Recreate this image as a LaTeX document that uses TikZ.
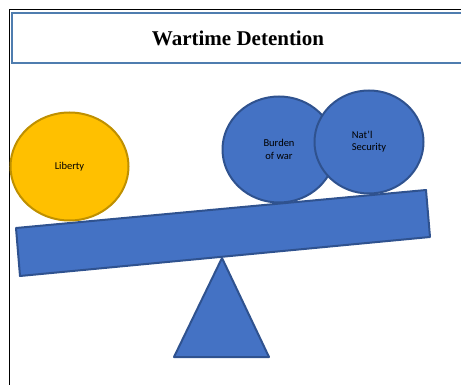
\documentclass[tikz,border=0pt]{standalone}
\usepackage{fontspec}
\setmainfont{Liberation Serif}
\newfontfamily\labelfont{Carlito}
\usetikzlibrary{shapes.geometric}
\definecolor{frameblue}{HTML}{4F7DAF}
\definecolor{shapeblue}{HTML}{4472C4}
\definecolor{edgeblue}{HTML}{2F528F}
\definecolor{gold}{HTML}{FFC000}
\definecolor{darkgold}{HTML}{BF9000}
\tikzset{
  weight/.style={ellipse, fill=shapeblue, draw=edgeblue, line width=2pt,
    inner sep=0pt, font=\labelfont\fontsize{10.5}{13.3}\selectfont, text=black},
  part/.style={fill=shapeblue, draw=edgeblue, line width=2pt, line join=round}
}
\begin{document}
\begin{tikzpicture}[x=1pt, y=-1pt]
\useasboundingbox (0,0) rectangle (461,385);
% page frame
\draw[line width=1.5pt] (9.5,385) -- (9.5,9.3) -- (461,9.3);
% title banner
\node[draw=frameblue, line width=2.2pt, minimum width=452pt, minimum height=50pt,
  anchor=north west, inner sep=0pt] (banner) at (11,12.3) {};
\node[font=\bfseries\fontsize{21}{24}\selectfont] (title) at (238,38) {Wartime Detention};
% see-saw beam and fulcrum
\draw[part] (16,228) coordinate (bl1) -- (426,190) coordinate (br1)
  -- (430,237) coordinate (br2) -- (20,276) coordinate (bl2) -- cycle;
\draw[part] (222,258) coordinate (apex) -- (269,357) coordinate (base2)
  -- (174,357) coordinate (base1) -- cycle;
% weights
\node[ellipse, fill=gold, draw=darkgold, line width=2pt, inner sep=0pt,
  minimum width=118pt, minimum height=108pt,
  font=\labelfont\fontsize{10.5}{13.3}\selectfont] (liberty) at (69.5,166.5) {Liberty};
\node[weight, minimum width=113pt, minimum height=106pt, align=center] (burden)
  at (279,149.5) {Burden\\of war};
\node[weight, minimum width=109pt, minimum height=103pt] (security) at (369,142)
  {\begin{tabular}{@{}l@{}}Nat’l\\[-1.5pt]Security\end{tabular}};
\end{tikzpicture}
\end{document}
